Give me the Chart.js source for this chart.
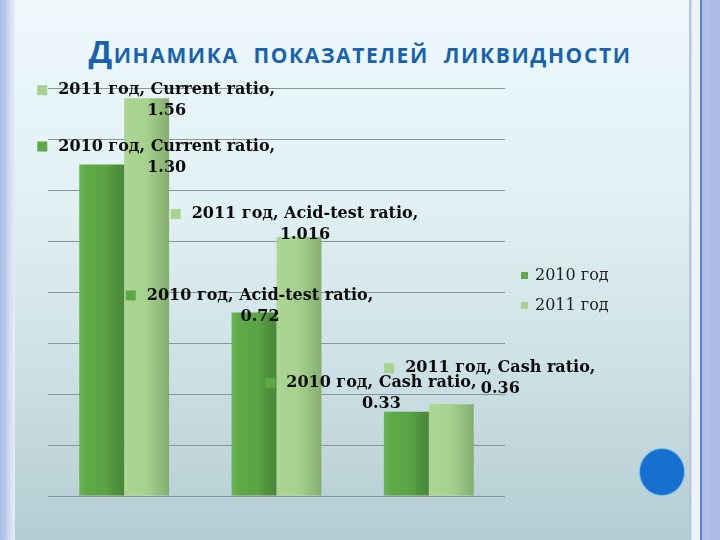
<!DOCTYPE html>
<html lang="ru">
<head>
<meta charset="utf-8">
<title>Динамика показателей ликвидности</title>
<script src="https://cdn.jsdelivr.net/npm/chart.js@4.4.1/dist/chart.umd.min.js"></script>
<style>
  html, body { margin: 0; padding: 0; }
  body {
    width: 720px; height: 540px; position: relative; overflow: hidden;
    background: linear-gradient(to bottom, #eef9fc 0%, #e2f1f4 35%, #cfe3e7 65%, #b4ccd2 100%);
  }
  .frame-left {
    position: absolute; left: 0; top: 0; width: 15px; height: 540px;
    background: linear-gradient(to right, #a9bbe2 0px, #b8c7ea 5px, #d4def2 10px, #e4eef4 15px);
  }
  .frame-right {
    position: absolute; left: 689px; top: 0; width: 31px; height: 540px;
    background: linear-gradient(to right, #b7c7d8 0px, #b7c7d8 2px, #edf3fa 3px, #edf3fa 11px,
      #5f86d0 11px, #5f86d0 13px, #adbde6 13px, #b3c2e8 20px, #a6b7e2 21px, #adbde6 23px);
  }
  .dot {
    position: absolute; left: 640px; top: 449px; width: 44px; height: 46px;
    border-radius: 50%; background: #1670d0; box-shadow: 0 0 0 1px #7ab8ea;
  }
  #title {
    position: absolute; left: 0; top: 31px; width: 720px; text-align: center;
    font-family: "Open Sans", sans-serif; font-weight: 700; color: #1962b0;
    line-height: 40px; font-size: 21px; letter-spacing: 1.6px; word-spacing: 8px;
  }
  #title .big { font-size: 31px; }
  canvas { position: absolute; left: 0; top: 0; }
</style>
</head>
<body>
<div class="frame-left"></div>
<div class="frame-right"></div>
<div id="title"><span class="big">Д</span>ИНАМИКА ПОКАЗАТЕЛЕЙ ЛИКВИДНОСТИ</div>
<div class="dot"></div>
<canvas id="chart" width="720" height="540"></canvas>
<script>
const categories = ['Current ratio', 'Acid-test ratio', 'Cash ratio'];
const seriesNames = ['2010 год', '2011 год'];
const values2010 = [1.30, 0.72, 0.33];
const values2011 = [1.56, 1.016, 0.36];
const valueText2010 = ['1.30', '0.72', '0.33'];
const valueText2011 = ['1.56', '1.016', '0.36'];

// where each data label sits, relative to the top centre of its bar
const labelShift2010 = [[65, -18], [6, -17], [-25, -29]];
const labelShift2011 = [[20, -8], [6, -23], [49, -36]];

const CAT_PCT = 0.59;
const swatch = ['#5ea848', '#a8d28f'];
const gradStops = [
  [[0, '#6ab652'], [0.15, '#5fa948'], [0.6, '#5aa345'], [0.8, '#4e913c'], [1, '#4a8838']],
  [[0, '#add694'], [0.5, '#a6d08e'], [0.75, '#95bf7e'], [1, '#86ad70']]
];

const barFill = (c) => {
  const chart = c.chart;
  const xs = chart.scales.x;
  if (!chart.chartArea || !xs) return swatch[c.datasetIndex];
  const barW = xs.width / categories.length * CAT_PCT / 2;
  const left = xs.getPixelForValue(c.dataIndex) - barW + c.datasetIndex * barW;
  const g = chart.ctx.createLinearGradient(left, 0, left + barW, 0);
  gradStops[c.datasetIndex].forEach(s => g.addColorStop(s[0], s[1]));
  return g;
};

const labelsPlugin = {
  id: 'labels',
  afterDatasetsDraw(chart) {
    const ctx = chart.ctx;
    const texts = [valueText2010, valueText2011];
    const shifts = [labelShift2010, labelShift2011];
    ctx.save();
    ctx.textBaseline = 'middle';
    // data labels, 2010 first so 2011 sits on top
    chart.data.datasets.forEach((ds, d) => {
      chart.getDatasetMeta(d).data.forEach((bar, i) => {
        const cx = bar.x + shifts[d][i][0];
        const y1 = bar.y + shifts[d][i][1];
        const line1 = ds.label + ', ' + categories[i] + ',';
        ctx.font = 'bold 16px "DejaVu Serif"';
        const w = ctx.measureText(line1).width;
        const left = cx - w / 2;
        ctx.fillStyle = swatch[d];
        ctx.fillRect(left - 21, y1 - 5, 10, 10);
        ctx.fillStyle = '#0c0c0c';
        ctx.textAlign = 'left';
        ctx.fillText(line1, left, y1);
        ctx.textAlign = 'center';
        ctx.fillText(texts[d][i], cx, y1 + 21);
      });
    });
    // legend
    ctx.font = '16px "DejaVu Serif"';
    ctx.textAlign = 'left';
    chart.data.datasets.forEach((ds, d) => {
      const y = chart.chartArea.top + 188 + d * 30;
      ctx.fillStyle = swatch[d];
      ctx.fillRect(chart.chartArea.right + 16, y - 4, 7, 7);
      ctx.fillStyle = '#222';
      ctx.fillText(ds.label, chart.chartArea.right + 30, y);
    });
    ctx.restore();
  }
};

new Chart(document.getElementById('chart'), {
  type: 'bar',
  data: {
    labels: categories,
    datasets: [
      { label: seriesNames[0], data: values2010, backgroundColor: barFill },
      { label: seriesNames[1], data: values2011, backgroundColor: barFill }
    ]
  },
  options: {
    responsive: false,
    animation: false,
    layout: { padding: { left: 48, right: 215, top: 88, bottom: 44 } },
    categoryPercentage: CAT_PCT,
    barPercentage: 1.0,
    scales: {
      x: {
        display: true,
        grid: { display: false },
        border: { display: false },
        ticks: { display: false },
        afterFit: (s) => { s.height = 0; }
      },
      y: {
        min: 0,
        max: 1.6,
        ticks: { display: false, stepSize: 0.2 },
        grid: { color: '#85959d', lineWidth: 1, drawTicks: false },
        border: { display: false },
        afterFit: (s) => { s.width = 0; }
      }
    },
    plugins: {
      legend: { display: false },
      tooltip: { enabled: false },
      title: { display: false }
    }
  },
  plugins: [labelsPlugin]
});
</script>
</body>
</html>
